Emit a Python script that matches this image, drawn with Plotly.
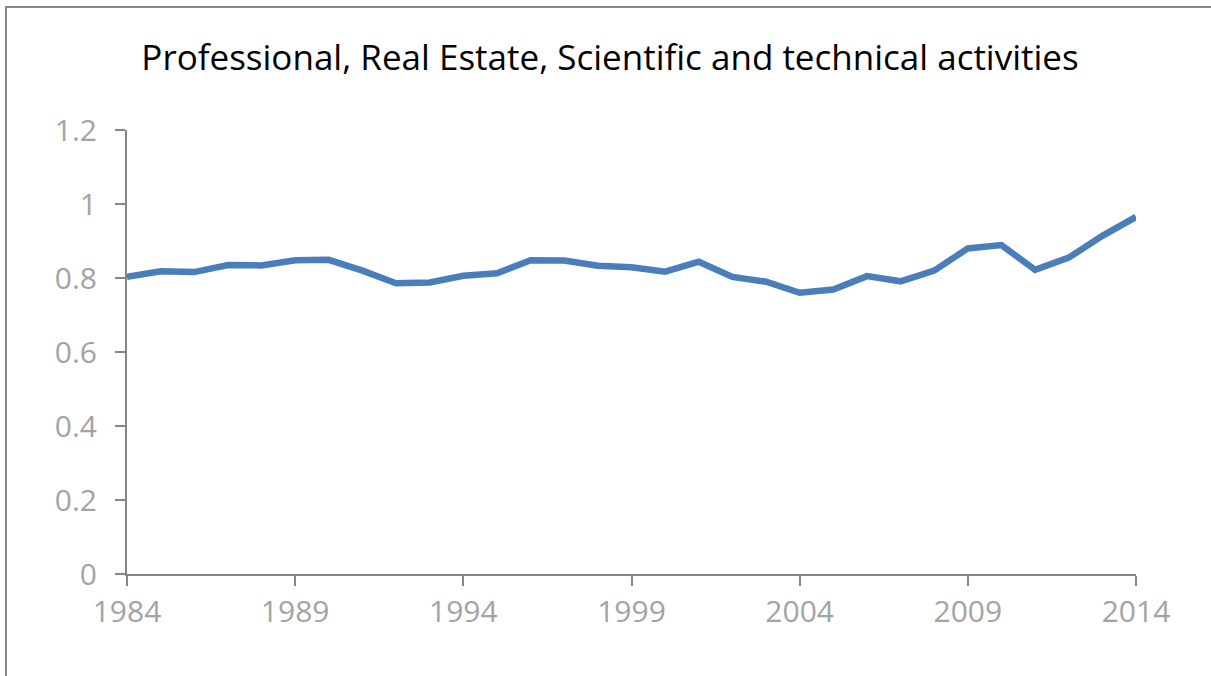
import plotly.graph_objects as go

years = list(range(1984, 2015))
values = [0.803, 0.818, 0.816, 0.835, 0.834, 0.848, 0.849, 0.820, 0.786, 0.788,
          0.806, 0.813, 0.848, 0.847, 0.833, 0.829, 0.817, 0.844, 0.803, 0.790,
          0.760, 0.769, 0.805, 0.791, 0.820, 0.880, 0.889, 0.822, 0.855, 0.914,
          0.965]
x_ticks = [1984, 1989, 1994, 1999, 2004, 2009, 2014]
y_ticks = [0, 0.2, 0.4, 0.6, 0.8, 1, 1.2]
y_tick_labels = ["0", "0.2", "0.4", "0.6", "0.8", "1", "1.2"]
title_text = "Professional, Real Estate, Scientific and technical activities"

FONT = "Open Sans"
fig = go.Figure()
fig.add_trace(go.Scatter(x=years, y=values, mode="lines",
                         line=dict(color="#4a7ebb", width=6.5),
                         showlegend=False, hoverinfo="x+y"))

L, R, T, B = 127, 75, 130, 102
W, H = 1211, 676
pw, ph = W - L - R, H - T - B

# frame: only left and top edges are visible in the reference
fx0 = (6 - L) / pw
fx1 = (W + 5 - L) / pw
fy0 = (H - B - (H + 5)) / ph
fy1 = (H - B - 7) / ph
frame_path = f"M {fx0},{fy0} L {fx0},{fy1} L {fx1},{fy1}"

fig.update_layout(
    width=W, height=H,
    margin=dict(l=L, r=R, t=T, b=B),
    paper_bgcolor="white", plot_bgcolor="white",
    title=dict(text=title_text, x=610 / W, xanchor="center", y=(H - 58) / H,
               yanchor="middle", font=dict(family=FONT, size=35, color="#000000")),
    xaxis=dict(range=[1984, 2014], tickvals=x_ticks, ticktext=[str(v) for v in x_ticks],
               showgrid=False, zeroline=False, showline=True, linecolor="#868686",
               linewidth=2, ticks="outside", ticklen=10, tickwidth=2, tickcolor="#868686",
               tickfont=dict(family=FONT, size=30, color="#a3a3a3")),
    yaxis=dict(range=[0, 1.2], tickvals=y_ticks, ticktext=y_tick_labels,
               showgrid=False, zeroline=False, showline=True, linecolor="#868686",
               linewidth=2, ticks="outside", ticklen=10, tickwidth=2, tickcolor="#868686",
               ticklabelstandoff=12,
               tickfont=dict(family=FONT, size=30, color="#a3a3a3")),
    shapes=[dict(type="path", xref="paper", yref="paper", path=frame_path,
                 line=dict(color="#888888", width=2), layer="below")],
)
fig.write_html("out.html", config={"displayModeBar": False},
               post_script="document.body.style.margin='0';document.body.style.overflow='hidden';")
